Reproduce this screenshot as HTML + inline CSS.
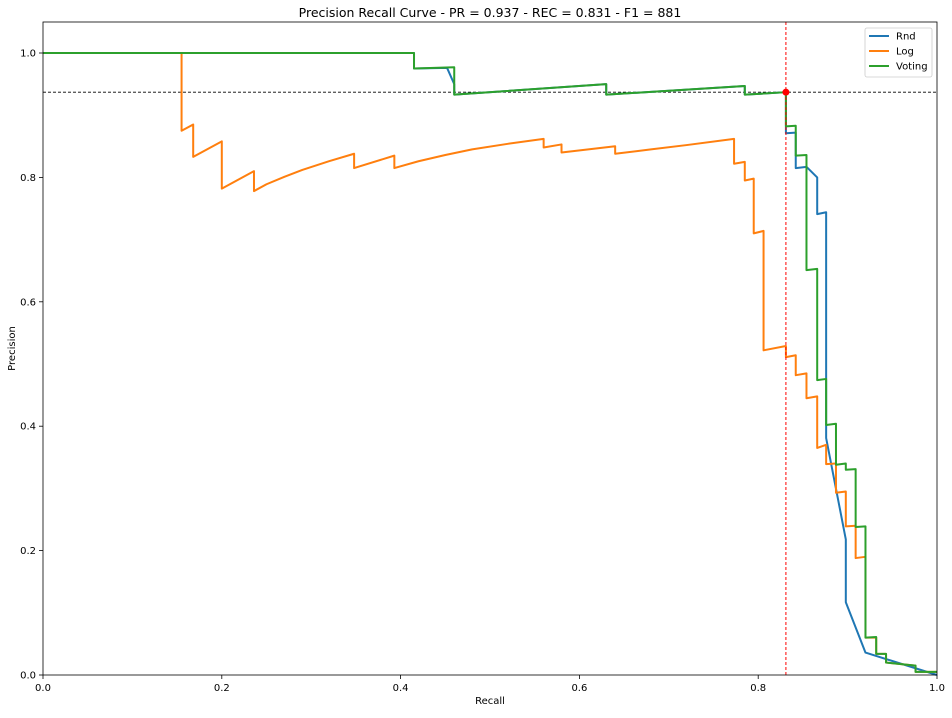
<!DOCTYPE html>
<html><head><meta charset="utf-8"><style>
body{margin:0;background:#fff;}
svg text{font-family:"DejaVu Sans","Liberation Sans",sans-serif;}
</style></head><body>
<svg id="chart" width="952" height="713" xmlns="http://www.w3.org/2000/svg"></svg>
<script>
const xTicks=[0,0.2,0.4,0.6,0.8,1.0];
const yTicks=[0,0.2,0.4,0.6,0.8,1.0];
const seriesNames=["Rnd","Log","Voting"];
const seriesColors=["#1f77b4","#ff7f0e","#2ca02c"];
const rndR=[0,0.415,0.415,0.452,0.46,0.46,0.63,0.63,0.785,0.785,0.831,0.831,0.842,0.842,0.854,0.866,0.866,0.876,0.876,0.898,0.898,0.92,1.0];
const rndP=[1,1,0.975,0.976,0.95,0.933,0.95,0.933,0.947,0.933,0.937,0.871,0.872,0.815,0.817,0.80,0.741,0.744,0.381,0.218,0.117,0.036,0.0];
const logR=[0,0.155,0.155,0.168,0.168,0.2,0.2,0.236,0.236,0.25,0.27,0.29,0.32,0.348,0.348,0.393,0.393,0.42,0.45,0.48,0.52,0.56,0.56,0.58,0.58,0.64,0.64,0.68,0.72,0.773,0.773,0.785,0.785,0.795,0.795,0.806,0.806,0.831,0.831,0.842,0.842,0.854,0.854,0.866,0.866,0.876,0.876,0.887,0.887,0.898,0.898,0.909,0.909,0.92,0.92,0.932,0.932,0.943,0.943,0.976,0.976,1.0];
const logP=[1,1,0.875,0.885,0.833,0.858,0.782,0.81,0.778,0.789,0.801,0.812,0.826,0.838,0.815,0.835,0.815,0.826,0.836,0.845,0.854,0.862,0.848,0.853,0.84,0.85,0.838,0.845,0.852,0.862,0.822,0.825,0.795,0.798,0.71,0.714,0.522,0.529,0.511,0.514,0.482,0.485,0.445,0.448,0.365,0.37,0.339,0.34,0.293,0.295,0.239,0.24,0.188,0.19,0.06,0.06,0.034,0.034,0.02,0.015,0.005,0.005];
const votR=[0,0.415,0.415,0.46,0.46,0.63,0.63,0.785,0.785,0.831,0.831,0.842,0.842,0.854,0.854,0.866,0.866,0.876,0.876,0.887,0.887,0.898,0.898,0.909,0.909,0.92,0.92,0.932,0.932,0.943,0.943,0.976,0.976,1.0];
const votP=[1,1,0.975,0.977,0.933,0.95,0.933,0.947,0.933,0.937,0.882,0.883,0.835,0.836,0.651,0.653,0.474,0.476,0.402,0.404,0.338,0.34,0.33,0.331,0.238,0.239,0.06,0.061,0.034,0.034,0.02,0.015,0.005,0.005];
const bestR=0.831, bestP=0.937;

const NS="http://www.w3.org/2000/svg";
const svg=document.getElementById('chart');
const L=43,R=937,T=22,B=675;
const sx=v=>L+v*(R-L);
const sy=v=>B-v*(B-53)/1.0;
function el(tag,attrs,parent){const e=document.createElementNS(NS,tag);for(const k in attrs)e.setAttribute(k,attrs[k]);(parent||svg).appendChild(e);return e;}

const title=el('text',{x:(L+R)/2,y:17,'text-anchor':'middle','font-size':12.5,fill:'#000'});


title.textContent='Precision Recall Curve - PR = 0.937 - REC = 0.831 - F1 = 881';

xTicks.forEach(t=>{
  const g=el('g',{});
  
  
  el('line',{x1:sx(t),x2:sx(t),y1:B,y2:B+4,stroke:'#000','stroke-width':0.8},g);
  const tx=el('text',{x:sx(t),y:B+16,'text-anchor':'middle','font-size':10},g);
  tx.textContent=t.toFixed(1);
});
yTicks.forEach(t=>{
  const g=el('g',{});
  
  
  el('line',{x1:L-4,x2:L,y1:sy(t),y2:sy(t),stroke:'#000','stroke-width':0.8},g);
  const tx=el('text',{x:L-7,y:sy(t)+3.5,'text-anchor':'end','font-size':10},g);
  tx.textContent=t.toFixed(1);
});
const xl=el('text',{x:(L+R)/2,y:704,'text-anchor':'middle','font-size':10});


xl.textContent='Recall';
const yl=el('text',{x:15,y:(T+B)/2,'text-anchor':'middle','font-size':10,transform:`rotate(-90 15 ${(T+B)/2})`});


yl.textContent='Precision';

const hl=el('line',{x1:L,x2:R,y1:sy(bestP),y2:sy(bestP),stroke:'#000','stroke-width':0.8,'stroke-dasharray':'3,2'});



const data=[[rndR,rndP],[logR,logP],[votR,votP]];
data.forEach((d,i)=>{
  const pts=d[0].map((r,j)=>sx(r)+','+sy(d[1][j])).join(' ');
  const p=el('polyline',{points:pts,fill:'none',stroke:seriesColors[i],'stroke-width':2,'stroke-linejoin':'round'});
  
  
});

const vl=el('line',{x1:sx(bestR),x2:sx(bestR),y1:T,y2:B,stroke:'#f00','stroke-width':1,'stroke-dasharray':'3,2'});


const dot=el('circle',{cx:sx(bestR),cy:sy(bestP),r:3.5,fill:'#f00'});



const frame=el('rect',{x:L,y:T,width:R-L,height:B-T,fill:'none',stroke:'#000','stroke-width':0.8});



const lg=el('g',{});


el('rect',{x:865,y:28,width:67,height:49,rx:2,fill:'#fff',stroke:'#ccc','stroke-width':0.8},lg);
seriesNames.forEach((n,i)=>{
  const g=el('g',{},lg);
  
  
  const y=36+i*15;
  el('line',{x1:869,x2:889,y1:y,y2:y,stroke:seriesColors[i],'stroke-width':2},g);
  const t=el('text',{x:896,y:y+3.5,'font-size':10},g);
  t.textContent=n;
});
</script>
</body></html>
